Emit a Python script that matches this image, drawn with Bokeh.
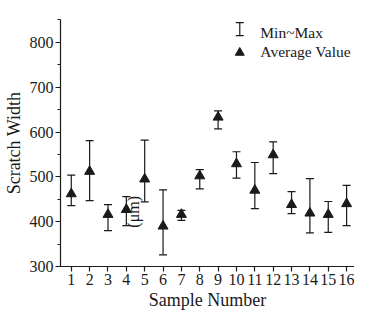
import math
from bokeh.plotting import figure
from bokeh.models import (ColumnDataSource, Whisker, TeeHead, Range1d, Label,
                          SingleIntervalTicker, FixedTicker)
from bokeh.embed import file_html
from bokeh.resources import INLINE

# ---- data ----
samples = list(range(1, 17))
avg_values = [462, 512, 416, 427, 495, 390, 416, 502, 633, 529, 470, 549, 438, 419, 416, 440]
min_values = [436, 447, 380, 391, 444, 326, 403, 473, 607, 497, 429, 507, 418, 375, 376, 391]
max_values = [504, 581, 438, 456, 582, 471, 425, 516, 647, 556, 532, 578, 467, 496, 445, 481]
x_ticks = samples
y_tick_interval = 100

FONT = "Liberation Serif"
INK = "#1a1a1a"

src = ColumnDataSource(dict(x=samples, avg=avg_values, lo=min_values, hi=max_values))

p = figure(width=354, height=312, output_backend="svg", toolbar_location=None,
           x_range=Range1d(0.413, 16.43), y_range=Range1d(300, 851),
           min_border_left=54, min_border_right=0, min_border_top=19, min_border_bottom=45)
p.outline_line_color = None
p.xgrid.visible = False
p.ygrid.visible = False
p.background_fill_color = "white"
p.border_fill_color = "white"

# error bars
wh = Whisker(source=src, base="x", lower="lo", upper="hi", dimension="height",
             line_color=INK, line_width=1.2,
             upper_head=TeeHead(size=8, line_color=INK, line_width=1.2),
             lower_head=TeeHead(size=8, line_color=INK, line_width=1.2))
p.add_layout(wh)

# average markers
p.scatter("x", "avg", source=src, marker="triangle", size=10,
          fill_color=INK, line_color=INK)

# axes
p.xaxis.ticker = FixedTicker(ticks=x_ticks)
p.yaxis.ticker = SingleIntervalTicker(interval=y_tick_interval, num_minor_ticks=2)
for ax in (p.xaxis[0], p.yaxis[0]):
    ax.axis_line_color = INK
    ax.axis_line_width = 1.2
    ax.major_tick_line_color = INK
    ax.major_tick_line_width = 1.2
    ax.major_tick_in = 0
    ax.major_tick_out = 5
    ax.minor_tick_in = 0
    ax.minor_tick_out = 3
    ax.minor_tick_line_color = INK
    ax.major_label_text_font = FONT
    ax.major_label_text_font_size = "16px"
    ax.major_label_text_color = INK
    ax.axis_label_text_font = FONT
    ax.axis_label_text_font_size = "18px"
    ax.axis_label_text_font_style = "normal"
    ax.axis_label_text_color = INK
p.xaxis.minor_tick_line_color = None
p.xaxis.major_label_standoff = 2
p.yaxis.major_label_standoff = 2
p.xaxis.axis_label = "Sample Number"
p.yaxis.axis_label = "Scratch Width"
p.xaxis.axis_label_standoff = 2
p.yaxis.axis_label_standoff = 3

# stray unit label
p.add_layout(Label(x=4.38, y=422, text="(μm)", angle=math.pi / 2,
                   text_align="center", text_baseline="middle",
                   text_font=FONT, text_font_size="16px", text_color=INK))

# legend (drawn manually, no frame)
LEG_ICON_X = 10.18
LEG_TEXT_X = 11.30
leg_src = ColumnDataSource(dict(base=[LEG_ICON_X], lo=[815], hi=[844]))
p.add_layout(Whisker(source=leg_src, base="base", lower="lo", upper="hi", dimension="height",
                     line_color=INK, line_width=1.2,
                     upper_head=TeeHead(size=8, line_color=INK, line_width=1.2),
                     lower_head=TeeHead(size=8, line_color=INK, line_width=1.2)))
p.scatter([LEG_ICON_X], [777], marker="triangle", size=9, fill_color=INK, line_color=INK)
p.add_layout(Label(x=LEG_TEXT_X, y=822, text="Min~Max", text_baseline="middle",
                   text_font=FONT, text_font_size="15.5px", text_color=INK))
p.add_layout(Label(x=LEG_TEXT_X, y=779, text="Average Value", text_baseline="middle",
                   text_font=FONT, text_font_size="15.5px", text_color=INK))

open("out.html", "w").write(file_html(p, INLINE))
